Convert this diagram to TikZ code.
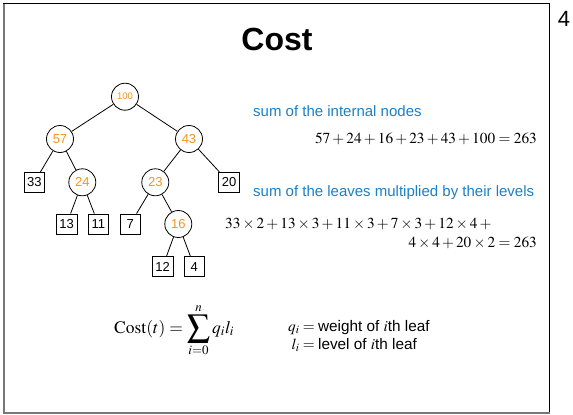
\documentclass[tikz,border=0pt]{standalone}
\usepackage{mathptmx}
\usepackage{graphicx}
\usepackage[no-math]{fontspec}
\setmainfont{Liberation Sans}
\definecolor{nodeorange}{RGB}{247,147,30}
\definecolor{capblue}{RGB}{28,128,196}
\definecolor{framegray}{RGB}{120,120,120}
% a larger summation sign with limits above and below
\newcommand{\bigsumop}{\mathop{\vcenter{\hbox{\scalebox{1.3}{$\displaystyle\sum$}}}}\limits}

\begin{document}
\begin{tikzpicture}[x=1pt,y=-1pt,
  innernode/.style={draw, circle, minimum size=27pt, inner sep=0pt, line width=0.8pt,
    text=nodeorange, font=\fontsize{13}{13}\selectfont},
  leafnode/.style={draw, rectangle, minimum width=20.5pt, minimum height=20pt, inner sep=0pt,
    line width=0.8pt, font=\fontsize{13}{13}\selectfont},
  treeedge/.style={line width=0.8pt},
  caption/.style={text=capblue, font=\fontsize{15}{18}\selectfont, inner sep=0pt},
  eqn/.style={font=\fontsize{15.3}{18}\selectfont, inner sep=0pt}]

  % page area
  \path[use as bounding box] (0,0) rectangle (573,415);

  % slide frame
  \draw[framegray, line width=2pt] (4,3) -- (4,412.5) -- (549.5,412.5);
  \draw[black, line width=1pt] (3,3.5) -- (549.5,3.5) -- (549.5,412);

  % page number and title
  \node[font=\fontsize{22}{22}\selectfont, inner sep=0pt, anchor=base] (pagenum) at (564,27) {4};
  \node[font=\fontsize{32}{32}\selectfont\bfseries, inner sep=0pt, anchor=base] (title) at (277,50) {Cost};

  % tree: internal nodes
  \node[innernode, font=\fontsize{9.5}{9.5}\selectfont] (n100) at (125,96.7) {100};
  \node[innernode] (n57) at (60,139) {57};
  \node[innernode] (n43) at (189,139) {43};
  \node[innernode] (n24) at (82.3,182.3) {24};
  \node[innernode] (n23) at (155.3,182.3) {23};
  \node[innernode] (n16) at (178.3,224) {16};

  % tree: leaves
  \node[leafnode] (l33) at (34.3,182.3) {33};
  \node[leafnode] (l20) at (229,182.3) {20};
  \node[leafnode] (l13) at (66.7,224) {13};
  \node[leafnode] (l11) at (98.3,224) {11};
  \node[leafnode] (l7) at (130.3,224) {7};
  \node[leafnode] (l12) at (162.7,266.7) {12};
  \node[leafnode] (l4) at (194.3,266.7) {4};

  % tree: edges
  \draw[treeedge] (n100) -- (n57);
  \draw[treeedge] (n100) -- (n43);
  \draw[treeedge] (n57) -- (l33);
  \draw[treeedge] (n57) -- (n24);
  \draw[treeedge] (n43) -- (n23);
  \draw[treeedge] (n43) -- (l20);
  \draw[treeedge] (n24) -- (l13);
  \draw[treeedge] (n24) -- (l11);
  \draw[treeedge] (n23) -- (l7);
  \draw[treeedge] (n23) -- (n16);
  \draw[treeedge] (n16) -- (l12);
  \draw[treeedge] (n16) -- (l4);

  % internal-node sum
  \node[caption, anchor=base west] (capint) at (253,116) {sum of the internal nodes};
  \node[eqn, anchor=base east] (eqint) at (537,143) {$57+24+16+23+43+100=263$};

  % weighted leaf sum
  \node[caption, anchor=base west] (capleaf) at (253,196) {sum of the leaves multiplied by their levels};
  \node[eqn, anchor=base west] (eqleafa) at (225,228)
    {$33\times2+13\times3+11\times3+7\times3+12\times4+{}$};
  \node[eqn, anchor=base east] (eqleafb) at (537,247) {$4\times4+20\times2=263$};

  % cost formula and legend
  \node[font=\fontsize{17.5}{21}\selectfont, inner sep=0pt, anchor=base west] (costdef) at (114,333)
    {$\mathrm{Cost}(t)=\bigsumop_{i=0}^{n} q_i l_i$};
  \node[eqn, anchor=base west] (legend) at (288,331)
    {\begin{tabular}[t]{@{}r@{}l@{}}
      $q_i$ & ${}={}$weight of $i$th leaf\\[0pt]
      $l_i$ & ${}={}$level of $i$th leaf
    \end{tabular}};
\end{tikzpicture}
\end{document}
